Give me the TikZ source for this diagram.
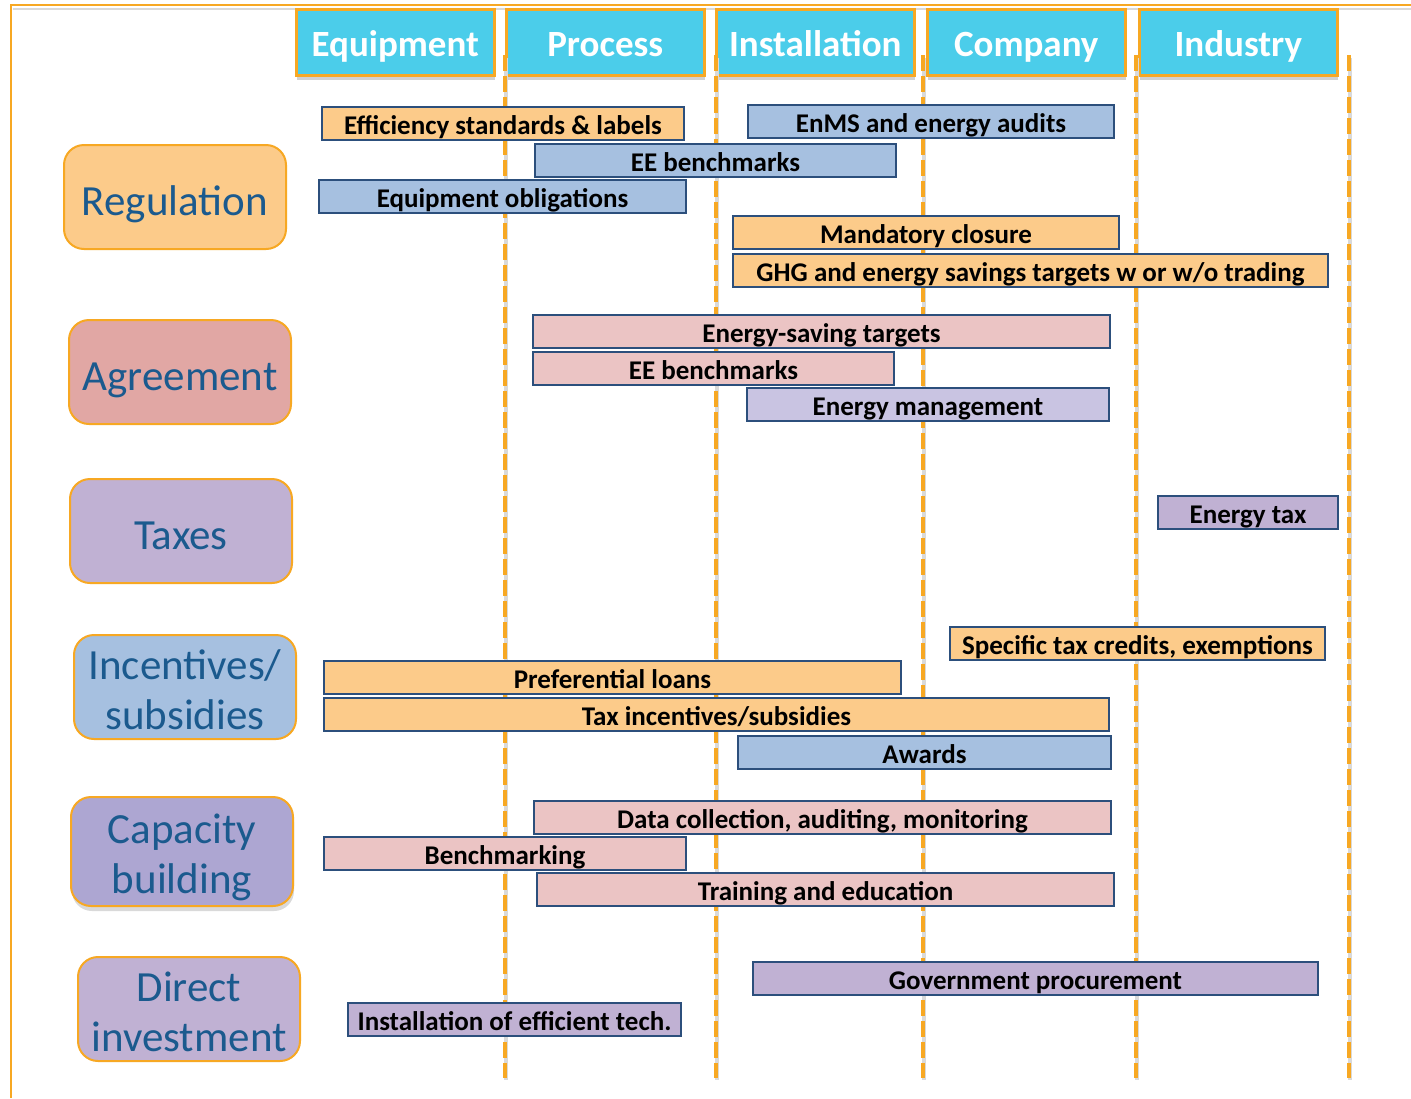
\documentclass[tikz,border=0pt]{standalone}
\usepackage{fontspec}
\setmainfont{Carlito}
\usetikzlibrary{shadows}

\definecolor{hdcyan}{HTML}{4BCDEA}
\definecolor{lineorange}{HTML}{F7A823}
\definecolor{barline}{HTML}{2C4F7C}
\definecolor{catblue}{HTML}{1B5A8E}
\definecolor{fillorange}{HTML}{FCCB8A}
\definecolor{fillblue}{HTML}{A6C0E0}
\definecolor{fillpink}{HTML}{EBC4C4}
\definecolor{filllav}{HTML}{C9C4E2}
\definecolor{fillpurple}{HTML}{C0B1D3}
\definecolor{fillagree}{HTML}{E1A7A4}
\definecolor{fillcap}{HTML}{ADA6D2}

\begin{document}
\begin{tikzpicture}[x=1pt,y=-1pt]

    \tikzset{
      hdbox/.style={
        draw=lineorange,
        line width=2.5pt,
        fill=hdcyan,
        text=white,
        font=\fontsize{37}{40}\selectfont\bfseries,
        minimum width=198pt,
        minimum height=66pt,
        inner sep=0pt,
        text height=47pt,
        text depth=19pt,
        anchor=north west,
        drop shadow={shadow xshift=1pt, shadow yshift=-5pt, fill=black!18, opacity=1},
      },
      catbox/.style={
        draw=lineorange,
        line width=2pt,
        rounded corners=20pt,
        text=catblue,
        font=\fontsize{43}{50}\selectfont,
        align=center,
        minimum width=222pt,
        minimum height=104pt,
        inner sep=0pt,
        text height=40pt,
        text depth=4pt,
        anchor=north west,
      },
      twoline/.style={
        text height=90pt,
        text depth=6pt,
      },
      barbox/.style={
        draw=barline,
        line width=2pt,
        font=\fontsize{27}{30}\selectfont\bfseries,
        inner sep=0pt,
        text height=27pt,
        text depth=6pt,
        anchor=north west,
      },
    }
    \useasboundingbox (0,0) rectangle (1411,1098);
    \fill[white] (0,0) rectangle (1411,1098);

    % outer frame
    \draw[black!15, line width=2pt] (13,9) -- (1411,9);
    \draw[lineorange, line width=2pt] (11,1098) -- (11,5) -- (1411,5);

    % column heads
    \node[hdbox] (equip) at (295,8) {Equipment};
    \node[hdbox] (proc) at (505,8) {Process};
    \node[hdbox] (inst) at (715,8) {Installation};
    \node[hdbox] (comp) at (926,8) {Company};
    \node[hdbox] (indu) at (1138,8) {Industry};

    % column separators
    \foreach \x in {505,716,923,1136,1349} {
      \draw[black!15, line width=4pt] (\x+1,58) -- (\x+1,1080);
      \draw[lineorange, line width=4pt, dash pattern=on 16pt off 5pt] (\x,55) -- (\x,1078);
    }

    % instrument types
    \node[catbox, fill=fillorange] (regul) at (63,144) {Regulation};
    \node[catbox, fill=fillagree] (agree) at (68,319) {Agreement};
    \node[catbox, fill=fillpurple] (taxes) at (69,478) {Taxes};
    \node[catbox, twoline, fill=fillblue] (incent) at (73,634) {Incentives/\\subsidies};
    \node[catbox, twoline, fill=fillcap, minimum height=109pt,
      drop shadow={shadow xshift=1pt, shadow yshift=-5pt, fill=black!15, opacity=1}] (capac) at (70,796) {Capacity\\building};
    \node[catbox, twoline, fill=fillpurple] (direct) at (77,956) {Direct\\investment};

    % regulation
    \node[barbox, fill=fillorange, minimum width=362pt] (effstd) at (321,106) {Efficiency standards \& labels};
    \node[barbox, fill=fillblue, minimum width=366pt] (enms) at (747,104) {EnMS and energy audits};
    \node[barbox, fill=fillblue, minimum width=361pt] (eebenchr) at (534,143) {EE benchmarks};
    \node[barbox, fill=fillblue, minimum width=367pt] (eqoblig) at (318,179) {Equipment obligations};
    \node[barbox, fill=fillorange, minimum width=386pt] (closure) at (732,215) {Mandatory closure};
    \node[barbox, fill=fillorange, minimum width=595pt] (ghg) at (732,253) {GHG and energy savings targets w or w/o trading};

    % agreement
    \node[barbox, fill=fillpink, minimum width=577pt] (savtarg) at (532,314) {Energy-saving targets};
    \node[barbox, fill=fillpink, minimum width=361pt] (eebencha) at (532,351) {EE benchmarks};
    \node[barbox, fill=filllav, minimum width=362pt] (enman) at (746,387) {Energy management};

    % taxes
    \node[barbox, fill=fillpurple, minimum width=180pt] (entax) at (1157,495) {Energy tax};

    % incentives
    \node[barbox, fill=fillorange, minimum width=375pt] (taxcred) at (949,626) {Specific tax credits, exemptions};
    \node[barbox, fill=fillorange, minimum width=577pt] (loans) at (323,660) {Preferential loans};
    \node[barbox, fill=fillorange, minimum width=785pt] (taxinc) at (323,697) {Tax incentives/subsidies};
    \node[barbox, fill=fillblue, minimum width=373pt] (awards) at (737,735) {Awards};

    % capacity building
    \node[barbox, fill=fillpink, minimum width=577pt] (datacol) at (533,800) {Data collection, auditing, monitoring};
    \node[barbox, fill=fillpink, minimum width=362pt] (benchm) at (323,836) {Benchmarking};
    \node[barbox, fill=fillpink, minimum width=577pt] (training) at (536,872) {Training and education};

    % direct investment
    \node[barbox, fill=fillpurple, minimum width=565pt] (procure) at (752,961) {Government procurement};
    \node[barbox, fill=fillpurple, minimum width=333pt] (effinst) at (347,1002) {Installation of efficient tech.};

\end{tikzpicture}
\end{document}
